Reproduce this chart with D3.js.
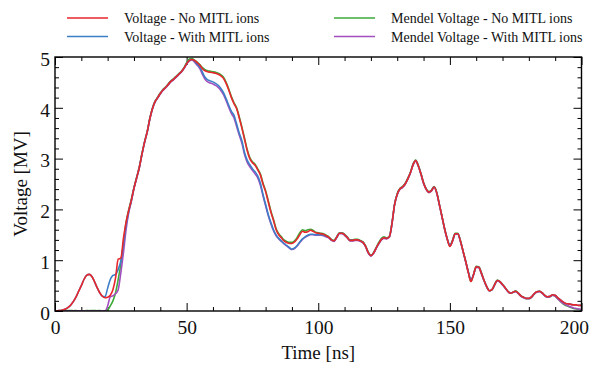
<!DOCTYPE html>
<html>
<head>
<meta charset="utf-8">
<script src="https://cdn.jsdelivr.net/npm/d3@7"></script>
<style>
  body { margin: 0; background: #fff; }
  svg { display: block; font-family: "Liberation Serif", "DejaVu Serif", serif; }
</style>
</head>
<body>
<svg id="drawing_region"></svg>
<script>
// time grid in ns (one sample per ns)
const time = d3.range(0, 201);

// Voltage - No MITL ions [MV]
const voltageNoIons = [
  0,0.005,0.01,0.02,0.04,0.07,0.12,0.19,0.28,0.39,
  0.5,0.62,0.7,0.72,0.68,0.58,0.46,0.36,0.29,0.26,
  0.27,0.31,0.42,0.65,1.02,1.04,1.43,1.75,1.98,2.18,
  2.42,2.62,2.82,3.08,3.32,3.52,3.78,3.98,4.12,4.2,
  4.28,4.35,4.4,4.46,4.52,4.56,4.61,4.66,4.71,4.78,
  4.87,4.93,4.95,4.93,4.89,4.84,4.77,4.73,4.71,4.7,
  4.69,4.68,4.66,4.63,4.58,4.48,4.35,4.2,4.08,3.98,
  3.8,3.6,3.38,3.16,3.0,2.92,2.87,2.78,2.68,2.5,
  2.35,2.15,1.95,1.78,1.6,1.5,1.44,1.38,1.35,1.33,
  1.33,1.36,1.42,1.5,1.57,1.55,1.56,1.59,1.57,1.54,
  1.53,1.52,1.51,1.48,1.45,1.4,1.38,1.45,1.53,1.53,
  1.5,1.45,1.39,1.39,1.4,1.4,1.38,1.35,1.27,1.15,
  1.09,1.14,1.24,1.33,1.41,1.44,1.43,1.46,1.72,2.1,
  2.3,2.4,2.44,2.5,2.6,2.72,2.88,2.96,2.86,2.7,
  2.52,2.4,2.34,2.37,2.44,2.33,2.1,1.86,1.62,1.42,
  1.27,1.38,1.52,1.52,1.38,1.18,0.98,0.76,0.58,0.72,
  0.87,0.86,0.74,0.6,0.48,0.4,0.42,0.52,0.6,0.58,
  0.52,0.46,0.39,0.35,0.37,0.39,0.35,0.3,0.27,0.25,
  0.25,0.28,0.34,0.38,0.39,0.36,0.31,0.28,0.29,0.32,
  0.31,0.26,0.22,0.18,0.15,0.14,0.13,0.12,0.12,0.11,
  0.11
];

// Voltage - With MITL ions [MV]
const voltageWithIons = [
  0,0.005,0.01,0.02,0.04,0.07,0.12,0.19,0.28,0.39,
  0.5,0.62,0.7,0.72,0.68,0.58,0.46,0.36,0.29,0.28,
  0.45,0.62,0.7,0.72,0.82,0.98,1.32,1.7,1.96,2.17,
  2.42,2.62,2.82,3.08,3.32,3.52,3.78,3.98,4.12,4.2,
  4.28,4.35,4.4,4.46,4.52,4.56,4.61,4.66,4.71,4.78,
  4.87,4.93,4.95,4.92,4.86,4.8,4.7,4.6,4.55,4.53,
  4.51,4.48,4.44,4.38,4.3,4.18,4.05,3.93,3.85,3.68,
  3.5,3.35,3.12,2.97,2.88,2.8,2.74,2.66,2.52,2.3,
  2.1,1.9,1.74,1.6,1.5,1.43,1.38,1.33,1.29,1.25,
  1.22,1.24,1.29,1.36,1.42,1.46,1.49,1.51,1.51,1.5,
  1.5,1.5,1.49,1.47,1.45,1.4,1.38,1.45,1.53,1.53,
  1.5,1.45,1.39,1.39,1.4,1.4,1.38,1.35,1.27,1.15,
  1.09,1.14,1.24,1.33,1.41,1.44,1.43,1.46,1.72,2.1,
  2.3,2.4,2.44,2.5,2.6,2.72,2.88,2.96,2.86,2.7,
  2.52,2.4,2.34,2.37,2.44,2.33,2.1,1.86,1.62,1.42,
  1.3,1.38,1.52,1.52,1.38,1.18,0.98,0.78,0.62,0.72,
  0.87,0.86,0.74,0.6,0.48,0.4,0.42,0.52,0.6,0.58,
  0.52,0.46,0.39,0.35,0.37,0.39,0.35,0.3,0.27,0.25,
  0.25,0.28,0.34,0.38,0.39,0.36,0.31,0.28,0.29,0.32,
  0.31,0.26,0.22,0.18,0.15,0.14,0.13,0.12,0.12,0.11,
  0.11
];

// Mendel Voltage - No MITL ions [MV]
const mendelNoIons = [
  0,0,0,0.01,0.005,0.01,0.01,0.005,0.01,0,
  0.005,0,0.01,0.005,0.01,0.01,0.005,0.01,0,0.005,
  0.02,0.1,0.2,0.36,0.62,0.92,1.33,1.74,1.99,2.2,
  2.43,2.63,2.83,3.09,3.33,3.53,3.79,3.99,4.13,4.21,
  4.29,4.36,4.41,4.47,4.53,4.57,4.62,4.67,4.72,4.79,
  4.89,4.96,4.97,4.94,4.9,4.85,4.79,4.75,4.73,4.72,
  4.71,4.7,4.68,4.65,4.6,4.5,4.37,4.22,4.1,4.0,
  3.82,3.62,3.4,3.18,3.02,2.94,2.89,2.8,2.7,2.52,
  2.37,2.17,1.97,1.8,1.62,1.52,1.46,1.4,1.37,1.35,
  1.35,1.38,1.45,1.54,1.6,1.58,1.6,1.61,1.59,1.55,
  1.54,1.53,1.52,1.49,1.46,1.41,1.39,1.46,1.54,1.54,
  1.51,1.46,1.4,1.4,1.41,1.41,1.39,1.36,1.28,1.16,
  1.1,1.15,1.25,1.35,1.43,1.46,1.44,1.47,1.73,2.1,
  2.31,2.41,2.45,2.51,2.61,2.73,2.89,2.97,2.87,2.71,
  2.53,2.41,2.35,2.38,2.45,2.34,2.1,1.86,1.62,1.42,
  1.28,1.39,1.53,1.53,1.39,1.18,0.98,0.76,0.58,0.72,
  0.88,0.87,0.75,0.6,0.48,0.4,0.42,0.52,0.61,0.58,
  0.52,0.46,0.39,0.35,0.37,0.4,0.35,0.3,0.27,0.24,
  0.24,0.27,0.33,0.38,0.39,0.36,0.31,0.27,0.28,0.31,
  0.29,0.24,0.19,0.14,0.11,0.09,0.07,0.05,0.04,0.03,
  0.02
];

// Mendel Voltage - With MITL ions [MV]
const mendelWithIons = [
  0,0,0,0,0,0,0,0,0,0,
  0,0,0,0,0,0,0,0,0,0,
  0.1,0.28,0.3,0.34,0.42,0.75,1.15,1.6,1.93,2.16,
  2.41,2.61,2.81,3.07,3.31,3.51,3.77,3.97,4.11,4.19,
  4.27,4.34,4.39,4.45,4.51,4.55,4.6,4.65,4.7,4.77,
  4.86,4.92,4.94,4.9,4.84,4.77,4.66,4.56,4.51,4.49,
  4.47,4.44,4.4,4.34,4.26,4.14,4.01,3.89,3.8,3.63,
  3.46,3.3,3.08,2.93,2.84,2.77,2.7,2.62,2.48,2.27,
  2.07,1.88,1.72,1.58,1.48,1.42,1.37,1.32,1.28,1.24,
  1.21,1.23,1.28,1.35,1.41,1.45,1.48,1.5,1.5,1.49,
  1.49,1.49,1.48,1.46,1.44,1.39,1.37,1.44,1.52,1.52,
  1.49,1.44,1.38,1.38,1.39,1.39,1.37,1.34,1.26,1.14,
  1.08,1.13,1.23,1.32,1.4,1.43,1.42,1.45,1.71,2.09,
  2.29,2.39,2.43,2.49,2.59,2.71,2.87,2.95,2.85,2.69,
  2.51,2.39,2.33,2.36,2.43,2.32,2.09,1.85,1.61,1.41,
  1.28,1.37,1.51,1.51,1.37,1.17,0.97,0.76,0.6,0.71,
  0.86,0.85,0.73,0.59,0.47,0.4,0.42,0.51,0.59,0.57,
  0.51,0.45,0.38,0.35,0.37,0.38,0.34,0.29,0.26,0.24,
  0.24,0.27,0.33,0.37,0.38,0.35,0.3,0.27,0.28,0.31,
  0.29,0.24,0.19,0.15,0.12,0.1,0.08,0.06,0.05,0.04,
  0.03
];

const xMajorTicks = [0, 50, 100, 150, 200];
const yMajorTicks = [0, 1, 2, 3, 4, 5];

// drawn back to front: red ends up on top
const seriesList = [
  { name: "Mendel Voltage - No MITL ions",   values: mendelNoIons,    color: "#3daa3a" },
  { name: "Mendel Voltage - With MITL ions", values: mendelWithIons,  color: "#a44fbf" },
  { name: "Voltage - With MITL ions",        values: voltageWithIons, color: "#3c7fc6" },
  { name: "Voltage - No MITL ions",          values: voltageNoIons,   color: "#e8262b" }
];

const legendOrder = [
  { series: 3, col: 0, row: 0 },
  { series: 2, col: 0, row: 1 },
  { series: 0, col: 1, row: 0 },
  { series: 1, col: 1, row: 1 }
];

const config = {
  width: 589,
  height: 365,
  margin: { top: 57, right: 7.5, bottom: 54, left: 55 }
};

const svg = d3.select("#drawing_region")
  .attr("width", config.width)
  .attr("height", config.height);

const inner_width = config.width - config.margin.left - config.margin.right;
const inner_height = config.height - config.margin.top - config.margin.bottom;

const chart = svg.append("g")
  .attr("transform", `translate(${config.margin.left}, ${config.margin.top})`);

const xscale = d3.scaleLinear().domain([0, 200]).range([0, inner_width]);
const yscale = d3.scaleLinear().domain([0, 5]).range([inner_height, 0]);

// clip lines to the plot frame
svg.append("defs").append("clipPath").attr("id", "plotclip")
  .append("rect").attr("width", inner_width).attr("height", inner_height);

// ticks, all pointing inward on all four sides
const xminor = d3.range(0, 201, 10).filter(d => d % 50 !== 0);
const yminor = d3.range(0, 5.01, 0.2).filter(d => Math.abs(d - Math.round(d)) > 1e-6);

function styleAxis(g) {
  g.select(".domain").remove();
  g.selectAll("line").attr("stroke", "#000").attr("stroke-width", 1);
}

chart.append("g").attr("transform", `translate(0, ${inner_height})`)
  .call(d3.axisBottom(xscale).tickValues(xminor).tickSize(-4).tickFormat(""))
  .call(styleAxis);
chart.append("g")
  .call(d3.axisTop(xscale).tickValues(xminor).tickSize(-4).tickFormat(""))
  .call(styleAxis);
chart.append("g")
  .call(d3.axisTop(xscale).tickValues(xMajorTicks).tickSize(-8).tickFormat(""))
  .call(styleAxis);
chart.append("g")
  .call(d3.axisLeft(yscale).tickValues(yminor).tickSize(-4).tickFormat(""))
  .call(styleAxis);
chart.append("g").attr("transform", `translate(${inner_width}, 0)`)
  .call(d3.axisRight(yscale).tickValues(yminor).tickSize(-4).tickFormat(""))
  .call(styleAxis);
chart.append("g").attr("transform", `translate(${inner_width}, 0)`)
  .call(d3.axisRight(yscale).tickValues(yMajorTicks).tickSize(-8).tickFormat(""))
  .call(styleAxis);

const xaxis_group = chart.append("g")
  .attr("transform", `translate(0, ${inner_height})`)
  .call(d3.axisBottom(xscale).tickValues(xMajorTicks).tickSize(-8).tickPadding(9).tickFormat(d3.format("d")))
  .call(styleAxis);
xaxis_group.selectAll("text")
  .attr("fill", "#111").attr("font-size", "19.5px")
  .attr("font-family", "Liberation Serif, serif");
xaxis_group.selectAll(".tick").filter(d => d === 200).select("text")
  .attr("text-anchor", "end").attr("x", 7);

const yaxis_group = chart.append("g")
  .call(d3.axisLeft(yscale).tickValues(yMajorTicks).tickSize(-8).tickPadding(5).tickFormat(d3.format("d")))
  .call(styleAxis);
yaxis_group.selectAll("text")
  .attr("fill", "#111").attr("font-size", "19.5px").attr("dy", "0.42em")
  .attr("font-family", "Liberation Serif, serif");

// series
const line = d3.line()
  .x((d, i) => xscale(time[i]))
  .y(d => yscale(d))
  .curve(d3.curveMonotoneX);

chart.append("g").attr("clip-path", "url(#plotclip)")
  .selectAll("path")
  .data(seriesList)
  .enter()
  .append("path")
  .attr("fill", "none")
  .attr("stroke", d => d.color)
  .attr("stroke-width", 1.6)
  .attr("stroke-linejoin", "round")
  .attr("d", d => line(d.values));

// frame
chart.append("rect")
  .attr("width", inner_width)
  .attr("height", inner_height)
  .attr("fill", "none")
  .attr("stroke", "#000")
  .attr("stroke-width", 1.4);

// axis titles
svg.append("text")
  .attr("x", config.margin.left + inner_width / 2)
  .attr("y", 359)
  .attr("text-anchor", "middle")
  .attr("font-size", "19px")
  .attr("fill", "#111")
  .text("Time [ns]");

svg.append("text")
  .attr("transform", `translate(27, ${config.margin.top + inner_height / 2}) rotate(-90)`)
  .attr("text-anchor", "middle")
  .attr("font-size", "19px")
  .attr("fill", "#111")
  .text("Voltage [MV]");

// legend
const legend = svg.append("g");
const colX = [67, 334];
const rowY = [18, 36.5];

legendOrder.forEach(item => {
  const s = seriesList[item.series];
  const x0 = colX[item.col];
  const y0 = rowY[item.row];
  legend.append("line")
    .attr("x1", x0).attr("x2", x0 + 41)
    .attr("y1", y0).attr("y2", y0)
    .attr("stroke", s.color)
    .attr("stroke-width", 1.6);
  legend.append("text")
    .attr("x", x0 + 57)
    .attr("y", y0 + 5)
    .attr("font-size", "14px")
    .attr("fill", "#111")
    .text(s.name);
});
</script>
</body>
</html>
